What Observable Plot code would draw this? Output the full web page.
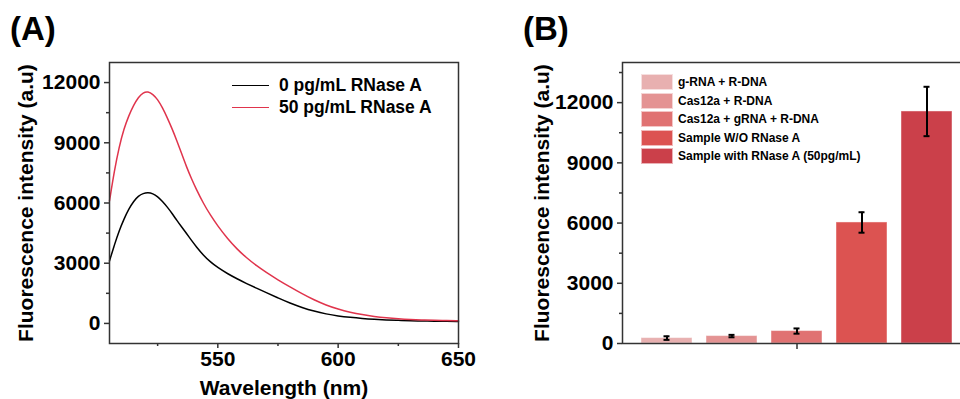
<!DOCTYPE html>
<html>
<head>
<meta charset="utf-8">
<script src="https://cdn.jsdelivr.net/npm/d3@7"></script>
<script src="https://cdn.jsdelivr.net/npm/@observablehq/plot@0.6"></script>
<style>
  html, body { margin: 0; padding: 0; background: #fff; overflow: hidden; }
  #wrap { position: relative; width: 960px; height: 399px; overflow: hidden; background: #fff;
          font-family: "Liberation Sans", Arial, Helvetica, sans-serif; font-weight: bold; color: #000; }
  .panel { position: absolute; top: 0; }
  .panel svg { max-width: none !important; }
  .ov { position: absolute; white-space: nowrap; }
  .title { font-size: 33px; line-height: 33px; }
  .legA { font-size: 17.5px; display: flex; align-items: center; height: 20px; }
  .legA .ln { width: 37px; height: 0; margin-right: 10px; }
  .legB { font-size: 12px; display: flex; align-items: center; height: 17px; }
  .legB .sw { width: 32px; height: 16px; margin-right: 5px; box-sizing: border-box; border: 1px solid rgba(255,255,255,0.6); }
</style>
</head>
<body>
<div id="wrap">
  <div class="panel" id="pA" style="left:0px"></div>
  <div class="panel" id="pB" style="left:480px"></div>
</div>
<script>
// ---------- Panel A data ----------
const wavelengths = [505, 507, 509, 511, 513, 515, 517, 519, 521, 523, 525, 527, 529, 531, 533, 535, 537, 539, 541, 544, 547, 550, 554, 558, 562, 566, 570, 575, 580, 585, 590, 595, 600, 605, 610, 615, 620, 625, 630, 635, 640, 645, 650];
const control0 = [3115, 3900, 4620, 5200, 5700, 6080, 6350, 6480, 6520, 6470, 6320, 6080, 5800, 5480, 5130, 4800, 4480, 4150, 3830, 3400, 3050, 2780, 2480, 2220, 1985, 1760, 1540, 1270, 1010, 790, 610, 470, 370, 300, 245, 205, 175, 152, 135, 122, 112, 105, 100];
const rnase50 = [6100, 7600, 8800, 9700, 10350, 10870, 11270, 11510, 11560, 11420, 11160, 10750, 10250, 9700, 9100, 8450, 7800, 7230, 6700, 5980, 5380, 4850, 4230, 3700, 3260, 2880, 2550, 2170, 1820, 1480, 1170, 910, 710, 555, 435, 345, 280, 232, 197, 172, 153, 140, 130];
const seriesNames = ["0 pg/mL RNase A", "50 pg/mL RNase A"];
const seriesColors = ["#000000", "#e0344c"];
const yMajorA = [0, 3000, 6000, 9000, 12000];
const yMinorA = [1500, 4500, 7500, 10500];
const xMajorA = [550, 600, 650];
const xMinorA = [525, 575, 625];

// ---------- Panel B data ----------
const categories = ["g-RNA + R-DNA", "Cas12a + R-DNA", "Cas12a + gRNA + R-DNA", "Sample W/O RNase A", "Sample with RNase A (50pg/mL)"];
const means = [270, 370, 620, 6030, 11560];
const errors = [90, 60, 130, 510, 1230];
const barColors = ["#e8b0b0", "#e49393", "#e07272", "#dc5351", "#cb404a"];
const yMajorB = [0, 3000, 6000, 9000, 12000];
const yMinorB = [1500, 4500, 7500, 10500, 13500];

const FONT = '"Liberation Sans", Arial, Helvetica, sans-serif';
const AXIS = "#333";
const FS = 21;
const plain = d => String(d);

const spectra = [];
wavelengths.forEach((w, i) => {
  spectra.push({wl: w, v: control0[i], s: seriesNames[0]});
  spectra.push({wl: w, v: rnase50[i], s: seriesNames[1]});
});

const chartA = Plot.plot({
  width: 480, height: 399,
  marginLeft: 109, marginTop: 62, marginRight: 22, marginBottom: 56,
  x: {domain: [505, 650]},
  y: {domain: [-1000, 13000]},
  color: {domain: seriesNames, range: seriesColors},
  style: {fontFamily: FONT, fontSize: FS + "px", fontWeight: "bold", color: "#000", background: "transparent", overflow: "visible"},
  marks: [
    Plot.line(spectra, {x: "wl", y: "v", z: "s", stroke: "s", strokeWidth: 1.5, curve: "basis"}),
    Plot.frame({stroke: AXIS, strokeWidth: 1.5}),
    Plot.axisY({ticks: yMajorA, tickSize: 5, tickPadding: 4, tickFormat: plain, label: null, stroke: AXIS, strokeWidth: 1.5, fontSize: FS}),
    Plot.axisY({ticks: yMinorA, tickSize: 3, tickFormat: () => "", label: null, stroke: AXIS, strokeWidth: 1.5}),
    Plot.axisX({ticks: xMajorA, tickSize: 5, tickPadding: 3, tickFormat: plain, label: null, stroke: AXIS, strokeWidth: 1.5, fontSize: FS}),
    Plot.axisX({ticks: xMinorA, tickSize: 3, tickFormat: () => "", label: null, stroke: AXIS, strokeWidth: 1.5}),
    Plot.text(["Fluorescence intensity (a.u)"], {text: d => d, frameAnchor: "left", rotate: -90, dx: -83, fontSize: FS, fontWeight: "bold", textAnchor: "middle", lineAnchor: "middle"}),
    Plot.text(["Wavelength (nm)"], {text: d => d, frameAnchor: "bottom", dy: 45, fontSize: FS, fontWeight: "bold", textAnchor: "middle", lineAnchor: "middle"})
  ]
});
document.getElementById("pA").appendChild(chartA);

const table = categories.map((c, i) => ({name: c, mean: means[i], err: errors[i]}));

const chartB = Plot.plot({
  width: 490, height: 399,
  marginLeft: 142, marginTop: 62, marginRight: 0, marginBottom: 56,
  x: {type: "band", domain: categories, paddingInner: 0.22, paddingOuter: 0.25},
  y: {domain: [0, 14000]},
  color: {domain: categories, range: barColors},
  style: {fontFamily: FONT, fontSize: FS + "px", fontWeight: "bold", color: "#000", background: "transparent", overflow: "visible"},
  marks: [
    Plot.barY(table, {x: "name", y: "mean", fill: "name", stroke: "#ffffff", strokeOpacity: 0.45, strokeWidth: 1}),
    Plot.ruleX(table, {x: "name", y1: d => d.mean - d.err, y2: d => d.mean + d.err, stroke: "#000", strokeWidth: 2}),
    Plot.tickY(table, {x: "name", y: d => d.mean - d.err, insetLeft: 22.5, insetRight: 22.5, stroke: "#000", strokeWidth: 2}),
    Plot.tickY(table, {x: "name", y: d => d.mean + d.err, insetLeft: 22.5, insetRight: 22.5, stroke: "#000", strokeWidth: 2}),
    Plot.frame({stroke: AXIS, strokeWidth: 1.5}),
    Plot.axisY({ticks: yMajorB, tickSize: 5, tickPadding: 4, tickFormat: plain, label: null, stroke: AXIS, strokeWidth: 1.5, fontSize: FS}),
    Plot.axisY({ticks: yMinorB, tickSize: 3, tickFormat: () => "", label: null, stroke: AXIS, strokeWidth: 1.5}),
    Plot.axisX({ticks: [categories[2]], tickSize: 6, tickFormat: () => "", label: null, stroke: AXIS, strokeWidth: 1.5}),
    Plot.text(["Fluorescence intensity (a.u)"], {text: d => d, frameAnchor: "left", rotate: -90, dx: -80, fontSize: FS, fontWeight: "bold", textAnchor: "middle", lineAnchor: "middle"})
  ]
});
document.getElementById("pB").appendChild(chartB);

// ---------- overlays: titles and legends ----------
const wrap = document.getElementById("wrap");
function addDiv(cls, left, top, html) {
  const d = document.createElement("div");
  d.className = "ov " + cls;
  d.style.left = left + "px";
  d.style.top = top + "px";
  d.innerHTML = html;
  wrap.appendChild(d);
  return d;
}
addDiv("title", 10, 12, "(A)");
addDiv("title", 523, 12, "(B)");

const legAy = [85, 107];
seriesNames.forEach((n, i) => {
  addDiv("legA", 232, legAy[i] - 10, `<span class="ln" style="border-top:1.5px solid ${seriesColors[i]}"></span><span>${n}</span>`);
});

const legBtop = [74, 92.5, 111, 129.5, 148];
categories.forEach((c, i) => {
  addDiv("legB", 641, legBtop[i] - 0.5, `<span class="sw" style="background:${barColors[i]}"></span><span>${c}</span>`);
});
</script>
</body>
</html>
